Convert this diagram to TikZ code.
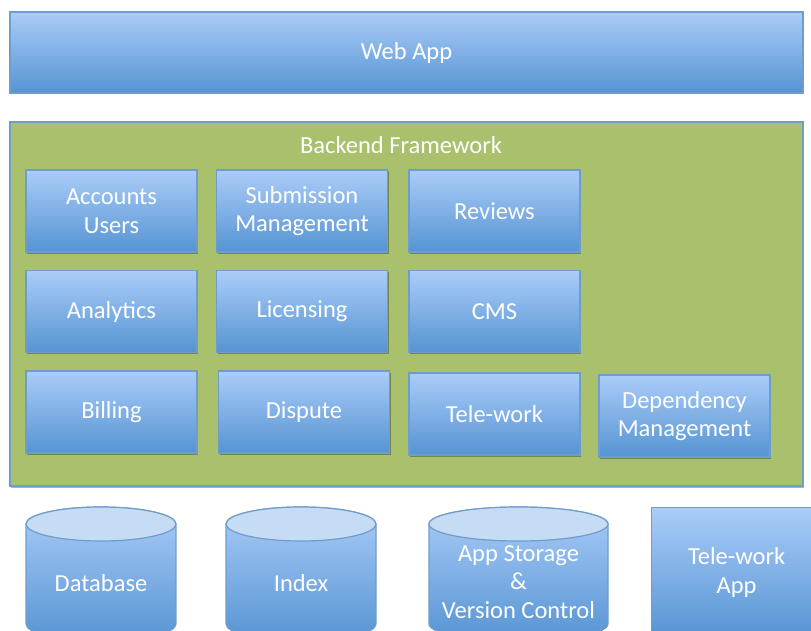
\documentclass[tikz,border=0pt]{standalone}
\usepackage{fontspec}
\setmainfont{Carlito}
\usetikzlibrary{shadows}
\definecolor{btop}{HTML}{AACCF8}
\definecolor{bbot}{HTML}{5694D3}
\definecolor{bdr}{HTML}{6F9DCB}
\definecolor{grn}{HTML}{A9C06C}
\definecolor{ctop}{HTML}{C6DCF5}
\begin{document}
\begin{tikzpicture}[x=1pt,y=-1pt,
  lbl/.style={text=white,font=\fontsize{24.5}{28.5}\selectfont,align=center,inner sep=0pt},
  box/.style={lbl,draw=bdr,line width=1.2pt,top color=btop,bottom color=bbot,
    drop shadow={shadow xshift=1pt,shadow yshift=-1.5pt,opacity=0.3,fill=black}},
  mod/.style={box,minimum width=171pt,minimum height=82pt},
  cylbody/.style={draw=bdr,line width=1.2pt,top color=btop,bottom color=bbot},
  cyltop/.style={draw=bdr,line width=1.2pt,fill=ctop},
]
\useasboundingbox (0,0) rectangle (811,631);
\clip (0,0) rectangle (811,631);
\fill[white] (0,0) rectangle (811,631);

% Web app
\node[box,minimum width=793pt,minimum height=81pt] (web) at (406.5,52.5) {Web App};

% Backend framework
\node[draw=bdr,fill=grn,line width=1.2pt,minimum width=793pt,minimum height=364pt,
  drop shadow={shadow xshift=1pt,shadow yshift=-1.5pt,opacity=0.3,fill=black}] (be) at (406.5,304) {};
\node[lbl] (betitle) at (401,145) {Backend Framework};

% Modules
\node[mod] (acc) at (111.5,211) {Accounts\\Users};
\node[mod] (sub) at (302,211) {Submission\\Management};
\node[mod] (rev) at (494.5,211) {Reviews};
\node[mod] (ana) at (111.5,311.5) {Analytics};
\node[mod] (lic) at (302,311.5) {Licensing};
\node[mod] (cms) at (494.5,311.5) {CMS};
\node[mod] (bil) at (111.5,412) {Billing};
\node[mod] (dis) at (304,412) {Dispute};
\node[mod] (tel) at (494.5,414) {Tele-work};
\node[mod] (dep) at (684.5,416) {Dependency\\Management};

% Cylinders
\newcommand{\mycyl}[4]{% cx, rx, ytop-center, ybottom-center
  \path[cylbody] ({#1-#2},#3) -- ({#1-#2},#4)
    arc[start angle=180,end angle=360,x radius=#2 pt,y radius=17pt]
    -- ({#1+#2},#3)
    arc[start angle=0,end angle=180,x radius=#2 pt,y radius=17pt] -- cycle;
  \path[cyltop] (#1,#3) ellipse[x radius=#2 pt,y radius=17pt];
}
\mycyl{101}{75}{524}{624}
\mycyl{301}{75}{524}{624}
\mycyl{518.5}{89.5}{524}{624}
\node[lbl] (db) at (101,583) {Database};
\node[lbl] (idx) at (301,583) {Index};
\node[lbl] (store) at (518.5,582) {App Storage\\\&\\Version Control};

\node[box,minimum width=170pt,minimum height=130pt,anchor=north west] (twapp) at (651,507) {Tele-work\\App};
\end{tikzpicture}
\end{document}
